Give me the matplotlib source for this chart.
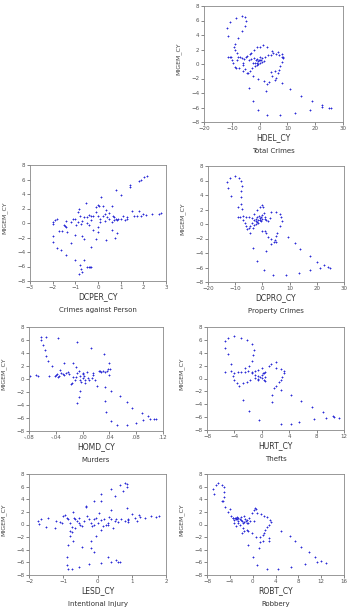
import numpy as np
import matplotlib
matplotlib.use("Agg")
import matplotlib.pyplot as plt

ylabel = "MIGEM_CY"

# HDEL_CY - Total Crimes
hdel_x = [-6.5, -5.2, -4.8, -8.4, -10.8, -11.6, -5.4, -6.5, -11.2, -7.8, -8.9, -9.2, -8.7, -8.2, -7.8,
          -11.5, -10.8, -10.2, -9.8, -9.5, -9.0, -8.5, -6.9, -6.2, -5.5, -5.0, -6.0, -5.8, -5.2, -4.5,
          -4.2, -3.5, -2.9, -2.5, -3.9, -3.2, -2.0, -1.2, -0.8, -0.5, 0.0, 0.5, 1.0, 2.0, 3.0, 4.0, 5.0,
          6.0, 7.0, 8.0, 8.5, 0.0, 1.2, 2.8, 4.5, 6.5, 8.2, 8.5, 8.0, 7.5, 7.0, 6.5, 6.0, 5.5, 4.5, 4.2,
          5.4, 3.5, 2.5, 1.5, -0.5, -2.5, -1.5, -1.0, -0.5, 0.0, -3.8, -2.3, -0.4, 2.8, 7.5, 12.8, 18.2,
          22.5, 22.5, 25.0, 25.8, 19.0, 14.8, 11.0, 8.2, 2.2, -3.6, -2.0, -3.0, -1.0, -4.5, -7.5, -6.0,
          -8.0, -1.8, -0.2, 0.8, 1.5, -1.0, 0.3]
hdel_y = [6.6, 6.5, 6.0, 6.3, 5.8, 4.9, 5.3, 4.5, 3.8, 3.6, 2.8, 2.4, 2.0, 1.5, 1.0,
          1.0, 1.0, 0.9, 0.6, 0.2, -0.4, -0.6, 1.0, 0.8, 0.7, 0.9, 0.1, -0.2, -0.7, -1.2,
          -1.3, -1.0, -0.5, 0.2, 0.6, 0.7, 0.8, 0.6, 0.2, 0.4, 0.5, 0.6, 0.8, 1.0, 1.2, 1.3, 1.5,
          1.4, 1.2, 1.0, 0.8, 2.4, 2.6, 2.4, 1.8, 1.6, 1.4, 0.9, 0.3, -0.3, -0.8, -1.3, -1.9, -2.2, -1.7, -1.1,
          -0.9, -2.5, -2.8, -2.3, -2.0, -1.7, -0.3, -0.2, 0.0, 0.2, -3.3, -5.1, -6.4, -7.1, -7.1, -6.8, -6.3,
          -5.9, -5.7, -6.0, -6.1, -5.1, -4.4, -3.5, -2.6, -3.7, 1.4, 1.9, 1.5, 2.3, 1.1, -0.6, -0.9,
          0.5, 0.1, 0.6, 0.3, 0.4, 0.7, 0.9]

# DCPER_CY - Crimes against Person
dcper_x = [-2.0, -2.0, -1.9, -1.8, -1.7, -1.6, -1.5, -1.45, -1.4, -1.35, -1.4, -1.2, -1.1, -1.0, -0.95,
           -0.9, -0.85, -0.9, -0.8, -0.7, -0.75, -0.6, -0.5, -0.55, -0.4, -0.3, -0.2, -0.1, 0.0, 0.0,
           0.05, -0.1, 0.15, 0.2, 0.2, 0.3, 0.35, 0.4, 0.5, 0.5, 0.6, 0.65, 0.7, 0.8, 0.85, 0.9, 1.0,
           1.1, 1.2, 1.3, 1.5, 1.6, 1.7, 1.8, 1.9, 2.0, 2.1, 2.4, 2.7, 2.8, 0.8, 1.0, 1.4, 1.4, 1.8,
           1.9, 2.05, 2.15, -2.0, -2.0, -1.8, -1.65, -1.4, -1.2, -1.0, -0.7, -0.6, -0.3, -0.1, 0.0, 0.35,
           0.6, 0.75, 0.85, -1.0, -0.6, -0.8, -0.75, -0.7, -0.85, -0.5, -0.4, -0.35, -0.3, -0.3, 0.1,
           0.3, 0.6, 0.7, 1.3, -0.2, 0.0, -0.5, -0.4, 0.1]
dcper_y = [0.1, -0.1, 0.4, 0.6, -1.1, -1.1, -0.3, -0.4, -0.6, -1.3, 0.3, 0.2, 0.6, 0.6, -0.3,
           0.1, 2.0, 1.5, 1.0, 0.3, -0.2, 0.8, 0.8, 2.8, 1.1, 0.9, 1.0, 1.5, 1.0, 2.5,
           2.4, 2.2, 3.6, 1.0, 2.4, 1.2, 1.8, 0.8, 0.5, 1.4, 2.3, 0.9, 0.8, 0.6, 0.4, 0.6, 0.5,
           0.9, 0.4, 0.8, 1.6, 1.0, 1.0, 1.7, 1.0, 1.2, 1.1, 1.2, 1.3, 1.4, 4.5, 3.8, 5.3, 4.9, 5.8,
           6.0, 6.3, 6.5, -1.8, -2.6, -3.5, -3.7, -4.4, -2.7, -1.7, -1.8, -2.2, -3.3, -2.2, -1.2, -2.3,
           -1.0, -2.1, -1.4, -5.1, -5.1, -5.8, -6.4, -6.7, -7.1, -6.1, -6.1, -6.0, -6.1, 0.4, 0.1,
           0.3, 0.2, 0.4, 0.5, -0.9, -0.5, 0.0, -0.3, 0.6]

# DCPRO_CY - Property Crimes
dcpro_x = [-13.0, -12.5, -11.8, -10.0, -8.5, -7.8, -7.5, -7.8, -7.8, -8.0, -7.5, -9.0, -11.5, -9.0, -8.3,
           -7.0, -6.0, -5.0, -4.0, -7.0, -6.5, -6.0, -5.5, -5.0, -4.5, -4.5, -3.8, -3.0, -2.5, -2.0,
           -1.5, -1.0, -0.5, 0.0, 0.5, -3.0, -2.0, -1.0, 0.0, 0.2, -2.5, -3.0, -2.0, -1.0, 0.0, 1.0, 1.5,
           3.0, 5.0, 6.5, 7.0, 7.2, 6.5, 5.5, 5.0, 4.5, 4.3, 3.0, 3.0, 2.0, 1.5, 1.0, 0.0, 5.0, 2.8, 2.0,
           -3.5, -2.0, 0.5, 4.0, 8.5, 13.5, 17.5, 21.0, 22.5, 24.0, 24.8, 20.0, 17.5, 14.0, 12.0, 9.5,
           1.5, -1.5, -0.5, -2.2, -1.2, -3.5, 0.8, -0.8]
dcpro_y = [5.8, 4.9, 6.3, 6.6, 6.4, 6.0, 5.2, 4.5, 3.7, 2.8, 2.1, 2.4, 3.9, 1.0, 1.0,
           1.1, 1.0, 0.9, 0.8, 0.6, 0.1, -0.3, -0.7, -0.5, -0.3, -1.3, 0.2, 0.5, 0.4, 0.9,
           0.5, 0.8, 1.0, 1.2, 1.5, 1.4, 1.9, 2.4, 2.6, 2.4, 0.0, -0.2, 0.3, 0.6, 0.7, 0.7, 0.6,
           1.7, 1.7, 1.4, 0.9, 0.4, -0.3, -1.2, -1.6, -2.2, -2.5, -2.7, -2.1, -1.8, -1.3, -1.0, -1.0, -2.5, 0.8, 0.4,
           -3.3, -5.1, -6.3, -7.0, -7.1, -6.8, -6.3, -6.1, -5.7, -5.9, -6.1, -5.2, -4.4, -3.5, -2.6, -1.8,
           -3.7, 0.2, 0.4, 0.7, 1.1, -0.5, 1.0, 0.6]

# HOMD_CY - Murders
homd_x = [-0.078, -0.07, -0.067, -0.062, -0.062, -0.059, -0.056, -0.055, -0.052, -0.05, -0.055, -0.045,
          -0.04, -0.038, -0.036, -0.035, -0.034, -0.03, -0.028, -0.025, -0.022, -0.02, -0.018, -0.016,
          -0.015, -0.014, -0.012, -0.01, -0.008, -0.009, -0.006, -0.004, -0.002, 0.0, 0.0, 0.002, 0.003,
          0.004, 0.006, 0.008, 0.01, 0.012, 0.014, 0.015, 0.016, 0.018, 0.024, 0.026, 0.028, 0.03, 0.032,
          0.034, 0.036, 0.038, 0.04, 0.041, 0.04, 0.022, 0.034, 0.042, -0.004, -0.006, -0.008, 0.033,
          0.035, 0.043, 0.052, 0.066, 0.08, 0.09, 0.1, 0.106, 0.11, 0.098, 0.088, 0.074, 0.066, 0.056,
          -0.004, -0.028, -0.041, -0.037, -0.032, -0.01, 0.0]
homd_y = [0.5, 0.6, 0.4, 6.0, 6.4, 5.2, 4.5, 3.6, 2.8, 0.5, 6.5, 2.0,
          0.6, 0.8, 6.3, 0.5, 1.4, 0.8, 2.5, 1.0, 1.1, 0.7, -0.7, -0.6,
          0.3, 2.4, -0.1, 1.8, 1.0, 5.7, 1.2, 0.4, -0.5, 0.8, 1.0, 0.4, -0.6,
          -0.2, 1.1, 0.2, -0.1, 4.8, 0.1, 1.0, 0.6, -0.2, 1.2, 1.3, 1.1, 1.2, 3.8,
          1.1, 1.3, 1.5, 2.4, 1.6, 0.6, -1.1, -1.3, -1.8, -1.8, -2.7, -3.7, -3.4,
          -5.0, -6.4, -7.1, -7.1, -6.8, -6.3, -6.1, -6.1, -6.1, -5.7, -5.2, -4.4, -3.5, -2.6,
          -0.2, 0.6, 0.5, 0.3, 0.9, 0.3, 0.2]

# HURT_CY - Thefts
hurt_x = [-5.3, -4.9, -4.0, -3.0, -2.2, -1.5, -1.2, -1.3, -1.5, -1.8, -2.5, -5.3, -5.0, -4.5, -5.3,
          -4.5, -4.0, -3.5, -3.0, -2.5, -2.0, -1.5, -1.0, -4.2, -4.0, -3.6, -3.3, -2.8, -2.2, -1.7,
          -1.0, -0.5, 0.0, 0.3, 0.5, -0.5, 0.0, 1.0, 1.3, 2.0, 2.0, 2.8, 3.2, 3.3, 3.0, 2.8, 2.5,
          2.0, 1.8, 2.8, 1.5, 1.5, -0.5, -0.3, 0.0, 0.5, 0.3, 0.5, -0.5, -1.0, -1.5, 0.2, -2.7,
          -1.8, -0.4, 2.8, 4.2, 5.5, 7.6, 9.3, 10.4, 10.5, 11.3, 9.0, 7.3, 5.7, 4.2]
hurt_y = [5.8, 6.3, 6.6, 6.3, 6.0, 5.3, 4.5, 3.6, 2.7, 2.0, 1.7, 4.8, 3.8, 2.3, 1.0,
          1.1, 0.8, 1.0, 1.0, 1.0, 1.1, 1.0, 1.1, 0.4, -0.2, -0.7, -1.2, -0.7, -0.5, -0.3,
          0.1, 0.4, 0.6, 0.8, 1.0, 1.3, 1.6, 2.0, 2.3, 2.6, 1.6, 1.4, 1.1, 0.8, 0.3, -0.2, -0.5,
          -1.1, -1.5, -1.8, -2.6, -3.7, -0.1, 0.3, 0.1, 0.2, -0.2, -0.4, -0.3, 0.5, 0.8, 0.9, -3.3,
          -5.1, -6.4, -7.1, -7.1, -6.8, -6.3, -6.1, -5.8, -6.0, -6.1, -5.2, -4.4, -3.5, -2.6]

# LESD_CY - Intentional Injury
lesd_x = [-1.75, -1.7, -1.65, -1.5, -1.45, -1.25, -1.2, -1.1, -1.05, -1.0, -0.95, -0.9, -0.85, -0.8,
          -0.75, -0.72, -0.7, -0.65, -0.6, -0.55, -0.5, -0.45, -0.4, -0.35, -0.33, -0.3, -0.25, -0.2,
          -0.15, -0.1, -0.05, 0.0, 0.05, 0.1, 0.15, 0.2, 0.3, 0.35, 0.4, 0.5, 0.6, 0.7, 0.8, 0.85, 0.9,
          1.0, 1.1, 1.2, 1.25, 1.4, 1.55, 1.7, 1.8, 0.9, 0.3, -0.1, 0.1, 0.1, 0.4, 0.5, 0.65, 0.8, 0.85,
          0.85, 0.75, 0.4, -0.9, -0.9, -0.85, -0.75, -0.55, -0.25, 0.1, 0.3, 0.4, 0.55, 0.6, 0.65,
          -0.85, -0.72, -0.8, -0.75, -0.8, -0.45, -0.2, -0.2, -0.1, -0.05, 0.1, 0.45, -0.55, -0.65,
          0.25, 0.55, 1.15, -0.1, 0.9]
lesd_y = [0.6, 0.1, 0.9, -0.4, 1.0, -0.6, 0.5, 0.4, 0.2, 1.3, 1.5, 1.1, 0.8, 0.2,
          -0.4, 2.0, 1.1, -0.5, 0.6, 1.0, 0.0, -0.3, 0.6, 2.7, 3.0, 1.3, 0.8, 0.3,
          -0.2, 0.9, 1.0, 0.3, 1.8, 0.7, -0.3, 0.9, -0.1, 1.2, 0.8, 0.6, 0.4, 0.8, 0.5, 2.6, 0.4,
          1.6, 1.0, 1.5, 1.2, 1.1, 1.3, 1.2, 1.3, 0.9, 0.3, 3.8, 3.7, 4.8, 5.7, 4.5, 6.3, 6.6, 6.4,
          6.0, 5.3, 2.3, -5.1, -6.4, -7.0, -7.1, -6.7, -6.3, -6.1, -5.2, -6.0, -5.7, -6.0, -6.0,
          -3.3, -2.6, -1.8, -1.2, -1.0, -3.5, -2.6, -3.7, -4.4, -1.8, -0.9, -0.5, 0.2, 0.9,
          0.0, 0.8, 0.5, 0.0, 0.7]

# ROBT_CY - Robbery
robt_x = [-7.0, -6.8, -6.5, -6.0, -5.3, -5.0, -5.0, -5.0, -5.3, -5.2, -4.8, -4.3, -4.0, -3.8, -3.5,
          -3.3, -3.2, -3.0, -3.5, -3.1, -3.0, -2.8, -2.6, -2.5, -2.3, -2.2, -2.0, -1.8, -1.7, -1.5,
          -1.3, -1.2, -1.0, -0.8, -0.6, -1.7, -1.5, -1.8, -1.0, -0.8, -0.2, 0.3, 0.2, 0.4, 0.5, -0.1,
          0.8, 1.4, 2.0, 2.5, 3.0, 3.2, 2.8, 2.5, 2.2, 2.0, 1.8, 1.3, 2.8, 2.8, 1.8, 1.2, 0.5, 5.0,
          6.5, 7.5, 8.5, 9.8, 11.0, 12.0, 12.8, 11.2, 9.2, 6.8, 4.5, 2.5, 0.8, 0.1, -0.8, 1.1, -3.0,
          -2.7, -2.5, -2.0, -1.5, -1.0, -0.5]
robt_y = [5.7, 4.8, 6.3, 6.5, 6.3, 5.9, 5.2, 4.4, 3.7, 3.7, 2.8, 2.0, 2.4, 1.4, 1.0,
          0.7, 0.2, -0.2, 1.0, 1.0, 0.9, 1.2, 0.6, 0.3, 0.0, 0.9, 1.2, 0.5, 0.2, 1.3,
          0.9, 0.5, 0.7, 0.2, 1.0, -0.6, -1.0, -1.3, -0.8, -1.0, -1.4, 0.5, 2.3, 2.6, 2.4, 1.9,
          1.8, 1.7, 1.4, 1.2, 0.7, 0.4, 0.0, -0.4, -0.8, -1.3, -1.6, -2.0, -2.2, -2.6, -2.6, -2.8, -2.0, -1.1,
          -1.8, -2.6, -3.5, -4.4, -5.2, -5.8, -6.1, -6.0, -6.3, -6.8, -7.1, -7.1, -6.4, -5.1, -3.3, -3.7, 1.1,
          0.8, 1.1, 0.7, 0.4, 0.3, 0.6]

W, H = 348, 615
fig = plt.figure(figsize=(W / 100, H / 100), dpi=100)

panels = [
    # x, y, xlabel, title, xlim, xticks, ticklabels, box(px: left, top, right, bottom)
    (hdel_x, hdel_y, "HDEL_CY", "Total Crimes", (-20, 30), [-20, -10, 0, 10, 20, 30], None, (204, 6, 343, 122)),
    (dcper_x, dcper_y, "DCPER_CY", "Crimes against Person", (-3, 3), [-3, -2, -1, 0, 1, 2, 3], None, (30, 165, 166, 281)),
    (dcpro_x, dcpro_y, "DCPRO_CY", "Property Crimes", (-20, 30), [-20, -10, 0, 10, 20, 30], None, (208, 166, 344, 282)),
    (homd_x, homd_y, "HOMD_CY", "Murders", (-0.08, 0.12), [-0.08, -0.04, 0.0, 0.04, 0.08, 0.12],
     ["-.08", "-.04", ".00", ".04", ".08", ".12"], (29, 327, 163, 431)),
    (hurt_x, hurt_y, "HURT_CY", "Thefts", (-8, 12), [-8, -4, 0, 4, 8, 12], None, (207, 327, 344, 430)),
    (lesd_x, lesd_y, "LESD_CY", "Intentional Injury", (-2, 2), [-2, -1, 0, 1, 2], None, (29, 474, 166, 575)),
    (robt_x, robt_y, "ROBT_CY", "Robbery", (-8, 16), [-8, -4, 0, 4, 8, 12, 16], None, (207, 474, 344, 575)),
]

for xs, ys, xl, title, xlim, xticks, xtl, box in panels:
    l, t, r, b = box
    ax = fig.add_axes([l / W, 1 - b / H, (r - l) / W, (b - t) / H])
    ax.plot(xs, ys, linestyle="none", marker="+", markersize=2.0, markeredgewidth=0.6, color="#2a2ad6")
    ax.set_xlim(*xlim)
    ax.set_ylim(-8, 8)
    ax.set_xticks(xticks)
    if xtl:
        ax.set_xticklabels(xtl)
    ax.set_yticks([-8, -6, -4, -2, 0, 2, 4, 6, 8])
    ax.tick_params(labelsize=4, length=2, width=0.5, colors="#555555", pad=1.2)
    for s in ax.spines.values():
        s.set_color("#888888")
        s.set_linewidth(0.6)
    ax.annotate(ylabel, xy=(0, 0.55), xycoords="axes fraction", xytext=(-25, 0),
                textcoords="offset pixels", ha="center", va="center", rotation=90,
                fontsize=4.5, color="#444444")
    ax.annotate(xl, xy=(0.5, 0), xycoords="axes fraction", xytext=(0, -16),
                textcoords="offset pixels", ha="center", va="center", fontsize=5.5, color="#333333")
    ax.annotate(title, xy=(0.5, 0), xycoords="axes fraction", xytext=(0, -29),
                textcoords="offset pixels", ha="center", va="center", fontsize=5, color="#333333")

fig.savefig("out.png", dpi=100)
